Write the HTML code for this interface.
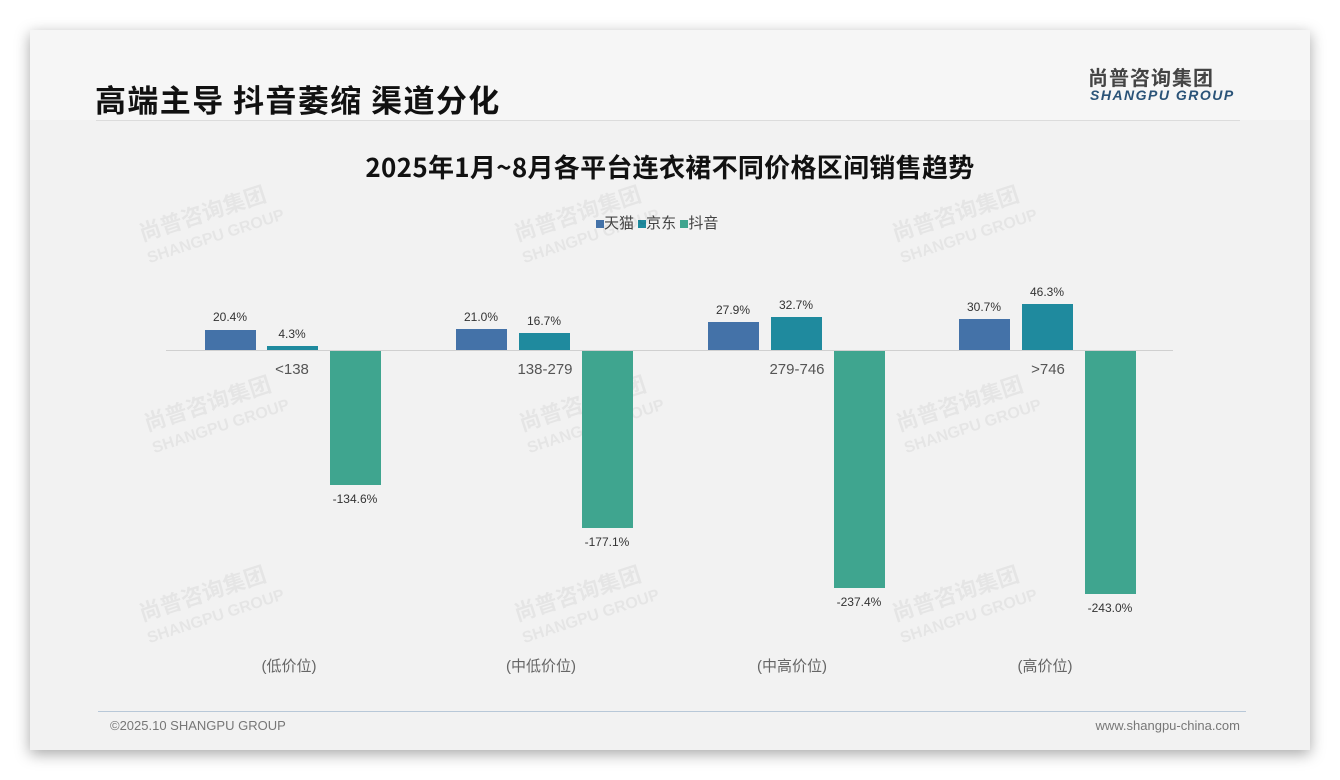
<!DOCTYPE html>
<html><head><meta charset="utf-8"><style>
body{margin:0;width:1340px;height:780px;background:#fff;position:relative;overflow:hidden;font-family:"Liberation Sans","Noto Sans CJK SC",sans-serif;}
.card{position:absolute;left:30px;top:30px;width:1280px;height:720px;background:#f2f2f2;box-shadow:0 4px 14px rgba(0,0,0,0.35);}
.t{position:absolute;white-space:nowrap;}
.wm{position:absolute;color:rgba(0,0,0,0.05);font-weight:bold;transform:rotate(-18deg);line-height:1.05;white-space:nowrap;}
</style></head><body>
<div class="card">
<div style="position:absolute;left:0;top:0;width:1280px;height:90px;background:#f6f6f6"></div>
<div style="position:absolute;left:66px;top:90px;width:1144px;height:1px;background:#dcdcdc"></div>
<div style="position:absolute;left:68px;top:681px;width:1148px;height:1px;background:#b8c8d8"></div>
</div>
<div class="t" style="left:95px;top:76px;font-size:31px;font-weight:bold;color:#111;font-family:'Noto Sans CJK SC',sans-serif;letter-spacing:1.4px">高端主导 抖音萎缩 渠道分化</div>
<div class="t" style="left:1088px;top:62px;font-size:20px;font-weight:bold;color:#444;font-family:'Noto Sans CJK SC',sans-serif;letter-spacing:1px">尚普咨询集团</div>
<div class="t" style="left:1090px;top:87px;font-size:14px;font-weight:bold;font-style:italic;color:#2a5378;letter-spacing:1.5px">SHANGPU GROUP</div>
<div class="t" style="left:0;width:1340px;text-align:center;top:148px;font-size:26px;font-weight:bold;color:#111;font-family:'Noto Sans CJK SC',sans-serif;letter-spacing:0.3px">2025年1月~8月各平台连衣裙不同价格区间销售趋势</div>
<div class="t" style="left:596px;top:212px;font-size:15px;color:#444"><span style="display:inline-block;width:8px;height:8px;background:#4472a8"></span>天猫 <span style="display:inline-block;width:8px;height:8px;background:#1f8a9e"></span>京东 <span style="display:inline-block;width:8px;height:8px;background:#3fa58f"></span>抖音</div>
<div class="wm" style="left:140px;top:200px;font-size:22px">尚普咨询集团<br><span style="font-size:16px">SHANGPU GROUP</span></div>
<div class="wm" style="left:515px;top:200px;font-size:22px">尚普咨询集团<br><span style="font-size:16px">SHANGPU GROUP</span></div>
<div class="wm" style="left:893px;top:200px;font-size:22px">尚普咨询集团<br><span style="font-size:16px">SHANGPU GROUP</span></div>
<div class="wm" style="left:145px;top:390px;font-size:22px">尚普咨询集团<br><span style="font-size:16px">SHANGPU GROUP</span></div>
<div class="wm" style="left:520px;top:390px;font-size:22px">尚普咨询集团<br><span style="font-size:16px">SHANGPU GROUP</span></div>
<div class="wm" style="left:897px;top:390px;font-size:22px">尚普咨询集团<br><span style="font-size:16px">SHANGPU GROUP</span></div>
<div class="wm" style="left:140px;top:580px;font-size:22px">尚普咨询集团<br><span style="font-size:16px">SHANGPU GROUP</span></div>
<div class="wm" style="left:515px;top:580px;font-size:22px">尚普咨询集团<br><span style="font-size:16px">SHANGPU GROUP</span></div>
<div class="wm" style="left:893px;top:580px;font-size:22px">尚普咨询集团<br><span style="font-size:16px">SHANGPU GROUP</span></div>
<svg width="1340" height="780" style="position:absolute;left:0;top:0" font-family="Liberation Sans, sans-serif">
<line x1="166" y1="350.5" x2="1173" y2="350.5" stroke="#d0d0d0"/>
<g font-size="12" fill="#333" text-anchor="middle">
<rect x="205" y="330" width="51" height="20" fill="#4472a8"/><text x="230" y="321">20.4%</text>
<rect x="267" y="346" width="51" height="4" fill="#1f8a9e"/><text x="292" y="338">4.3%</text>
<rect x="330" y="351" width="51" height="134" fill="#3fa58f"/><text x="355" y="503">-134.6%</text>
<rect x="456" y="329" width="51" height="21" fill="#4472a8"/><text x="481" y="321">21.0%</text>
<rect x="519" y="333" width="51" height="17" fill="#1f8a9e"/><text x="544" y="325">16.7%</text>
<rect x="582" y="351" width="51" height="177" fill="#3fa58f"/><text x="607" y="546">-177.1%</text>
<rect x="708" y="322" width="51" height="28" fill="#4472a8"/><text x="733" y="314">27.9%</text>
<rect x="771" y="317" width="51" height="33" fill="#1f8a9e"/><text x="796" y="309">32.7%</text>
<rect x="834" y="351" width="51" height="237" fill="#3fa58f"/><text x="859" y="606">-237.4%</text>
<rect x="959" y="319" width="51" height="31" fill="#4472a8"/><text x="984" y="311">30.7%</text>
<rect x="1022" y="304" width="51" height="46" fill="#1f8a9e"/><text x="1047" y="296">46.3%</text>
<rect x="1085" y="351" width="51" height="243" fill="#3fa58f"/><text x="1110" y="612">-243.0%</text>
</g>
<g font-size="15" fill="#555" text-anchor="middle">
<text x="292" y="374">&lt;138</text><text x="545" y="374">138-279</text><text x="797" y="374">279-746</text><text x="1048" y="374">&gt;746</text>
</g>
<g font-size="15" fill="#666" text-anchor="middle" font-family="Liberation Sans, Noto Sans CJK SC, sans-serif">
<text x="289" y="671">(低价位)</text><text x="541" y="671">(中低价位)</text><text x="792" y="671">(中高价位)</text><text x="1045" y="671">(高价位)</text>
</g>
<text x="110" y="730" font-size="13" fill="#777">©2025.10 SHANGPU GROUP</text>
<text x="1240" y="730" font-size="13" fill="#777" text-anchor="end">www.shangpu-china.com</text>
</svg>
</body></html>
